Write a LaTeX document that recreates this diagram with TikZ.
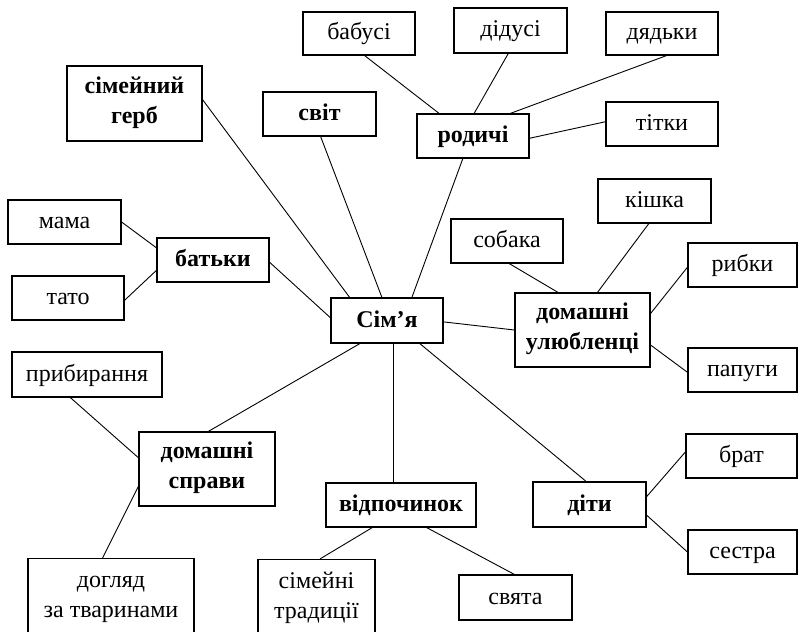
\documentclass[tikz,border=0pt]{standalone}
\usepackage{fontspec}
\setmainfont{Liberation Serif}
\usetikzlibrary{calc}
\newcommand\topst{\rule{0pt}{16pt}}
\newcommand\botst{\rule[-7pt]{0pt}{7pt}}
\begin{document}
\begin{tikzpicture}[x=1pt,y=-1pt,
  box/.style={draw, line width=1.2pt, inner sep=0pt, align=center, text height=16pt, text depth=3pt, font=\fontsize{24}{30}\selectfont},
  bbox/.style={box, font=\fontsize{24}{30}\selectfont\bfseries},
  two/.style={text height=, text depth=},
  link/.style={line width=0.9pt}]
\useasboundingbox (0,0) rectangle (799,631);
\clip (0,0) rectangle (799,631);
% main nodes
\node[bbox, two, minimum width=135pt, minimum height=75pt] (gerb) at (134.5,103.5) {\topst сімейний\\герб\botst};
\node[bbox, minimum width=113pt, minimum height=44pt] (svit) at (319.5,114) {світ};
\node[bbox, minimum width=112pt, minimum height=44pt] (rod) at (473,136) {родичі};
\node[bbox, minimum width=112pt, minimum height=44pt] (bat) at (213,260) {батьки};
\node[bbox, minimum width=112pt, minimum height=45pt] (sim) at (387,320.5) {Сім’я};
\node[bbox, two, minimum width=135pt, minimum height=74pt] (ulub) at (582.5,330) {\topst домашні\\улюбленці\botst};
\node[bbox, two, minimum width=136pt, minimum height=74pt] (sprav) at (207,469) {\topst домашні\\справи\botst};
\node[bbox, minimum width=150pt, minimum height=44pt] (vidp) at (401,505) {відпочинок};
\node[bbox, minimum width=113pt, minimum height=45pt] (dity) at (589.5,504.5) {діти};
% leaves
\node[box, minimum width=112pt, minimum height=43pt] (bab) at (359,33.5) {бабусі};
\node[box, minimum width=113pt, minimum height=45pt] (did) at (510.5,30.5) {дідусі};
\node[box, minimum width=112pt, minimum height=43pt] (dyad) at (662,33.5) {дядьки};
\node[box, minimum width=112pt, minimum height=44pt] (tit) at (662,124) {тітки};
\node[box, minimum width=113pt, minimum height=44pt] (kish) at (654.5,201) {кішка};
\node[box, minimum width=112pt, minimum height=44pt] (sob) at (507,241) {собака};
\node[box, minimum width=109pt, minimum height=44pt] (ryb) at (742.5,265) {рибки};
\node[box, minimum width=109pt, minimum height=44pt] (pap) at (742.5,370) {папуги};
\node[box, minimum width=113pt, minimum height=44pt] (mama) at (64.5,222) {мама};
\node[box, minimum width=112pt, minimum height=44pt] (tato) at (68,298) {тато};
\node[box, minimum width=150pt, minimum height=45pt] (pryb) at (87,374.5) {прибирання};
\node[box, two, minimum width=166pt, minimum height=78pt] (dohl) at (111,597.5) {\topst догляд\\за тваринами\botst};
\node[box, two, minimum width=117pt, minimum height=78pt] (trad) at (316.5,598.5) {\topst сімейні\\традиції\botst};
\node[box, minimum width=113pt, minimum height=45pt] (svyata) at (515.5,597.5) {свята};
\node[box, minimum width=111pt, minimum height=44pt] (brat) at (741.5,456) {брат};
\node[box, minimum width=109pt, minimum height=44pt] (sestra) at (742.5,552) {сестра};
% connectors to centre
\draw[link] ($(gerb.north east)!0.45!(gerb.south east)$) -- ($(sim.north west)!0.17!(sim.north east)$);
\draw[link] ($(svit.south west)!0.51!(svit.south east)$) -- ($(sim.north west)!0.455!(sim.north east)$);
\draw[link] ($(rod.south west)!0.41!(rod.south east)$) -- ($(sim.north west)!0.72!(sim.north east)$);
\draw[link] ($(bat.north east)!0.55!(bat.south east)$) -- ($(sim.north west)!0.44!(sim.south west)$);
\draw[link] ($(sim.north east)!0.53!(sim.south east)$) -- ($(ulub.north west)!0.5!(ulub.south west)$);
\draw[link] ($(sim.south west)!0.26!(sim.south east)$) -- ($(sprav.north west)!0.51!(sprav.north east)$);
\coordinate (simv) at ($(sim.south west)!0.56!(sim.south east)$);
\draw[link] (simv) -- (simv |- vidp.north);
\draw[link] ($(sim.south west)!0.79!(sim.south east)$) -- ($(dity.north west)!0.47!(dity.north east)$);
% батьки
\draw[link] (mama.east) -- ($(bat.north west)!0.23!(bat.south west)$);
\draw[link] ($(tato.north east)!0.55!(tato.south east)$) -- ($(bat.north west)!0.73!(bat.south west)$);
% родичі
\draw[link] ($(bab.south west)!0.55!(bab.south east)$) -- ($(rod.north west)!0.2!(rod.north east)$);
\draw[link] ($(did.south west)!0.48!(did.south east)$) -- ($(rod.north west)!0.51!(rod.north east)$);
\draw[link] ($(dyad.south west)!0.54!(dyad.south east)$) -- ($(rod.north west)!0.83!(rod.north east)$);
\draw[link] ($(tit.north west)!0.45!(tit.south west)$) -- ($(rod.north east)!0.55!(rod.south east)$);
% улюбленці
\draw[link] ($(sob.south west)!0.52!(sob.south east)$) -- ($(ulub.north west)!0.32!(ulub.north east)$);
\draw[link] ($(kish.south west)!0.45!(kish.south east)$) -- ($(ulub.north west)!0.61!(ulub.north east)$);
\draw[link] ($(ryb.north west)!0.55!(ryb.south west)$) -- ($(ulub.north east)!0.28!(ulub.south east)$);
\draw[link] ($(pap.north west)!0.55!(pap.south west)$) -- ($(ulub.north east)!0.70!(ulub.south east)$);
% справи
\draw[link] ($(pryb.south west)!0.39!(pryb.south east)$) -- ($(sprav.north west)!0.35!(sprav.south west)$);
\draw[link] ($(dohl.north west)!0.45!(dohl.north east)$) -- ($(sprav.north west)!0.73!(sprav.south west)$);
% відпочинок
\draw[link] ($(vidp.south west)!0.31!(vidp.south east)$) -- ($(trad.north west)!0.53!(trad.north east)$);
\draw[link] ($(vidp.south west)!0.67!(vidp.south east)$) -- ($(svyata.north west)!0.49!(svyata.north east)$);
% діти
\draw[link] ($(dity.north east)!0.33!(dity.south east)$) -- ($(brat.north west)!0.41!(brat.south west)$);
\draw[link] ($(dity.north east)!0.73!(dity.south east)$) -- ($(sestra.north west)!0.5!(sestra.south west)$);
\end{tikzpicture}
\end{document}
